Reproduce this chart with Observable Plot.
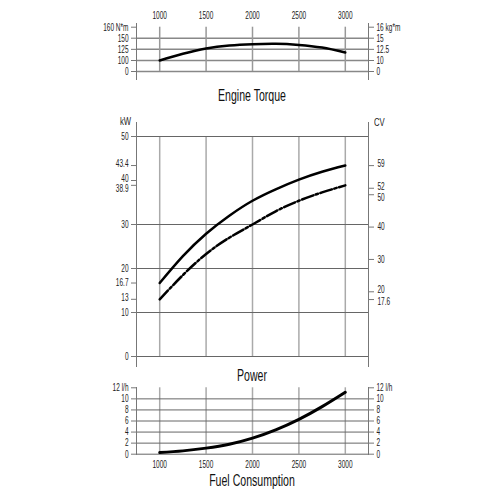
<!DOCTYPE html>
<html><head><meta charset="utf-8">
<script src="https://cdn.jsdelivr.net/npm/d3@7"></script>
<script src="https://cdn.jsdelivr.net/npm/@observablehq/plot@0.6"></script>
<style>
body{margin:0;background:#fff;}
#c{position:relative;width:500px;height:500px;overflow:hidden;font-family:"Liberation Sans",Arial,sans-serif;color:#222;}
.p{position:absolute;left:0;}
.t{position:absolute;left:2px;width:500px;text-align:center;font-size:16px;line-height:16px;color:#111;transform:scaleX(0.66);}
.u{position:absolute;font-size:11px;line-height:12px;color:#222;transform:scaleX(0.7);}
</style>
</head><body>
<div id="c"></div>
<script>
// ---- data ----
const rpm = [1000, 1250, 1500, 1750, 2000, 2250, 2500, 2750, 3000];
const torqueNm = [100, 115, 127, 133.5, 136.5, 137.5, 135, 129, 118];
const powerMax = [16.7, 22.8, 27.9, 32, 35.4, 38, 40.2, 42, 43.4];
const powerCont = [13, 18.5, 23.3, 27, 30, 33, 35.4, 37.3, 38.9];
const fuelLh = [0.3, 0.6, 1.1, 1.8, 2.9, 4.4, 6.3, 8.6, 11.2];

const rpmTicks = [1000, 1500, 2000, 2500, 3000];
const torqueTicks = [0, 100, 125, 150, 160];
const torqueLabelsL = ["0", "100", "125", "150", "160 N*m"];
const torqueLabelsR = ["0", "10", "12.5", "15", "16 kg*m"];
const torqueGrid = [0, 100, 125, 150];
const kwTicks = [0, 10, 13, 16.7, 20, 30, 38.9, 40, 43.4, 50];
const kwLabelsUp = [13, 40, 43.4];
const kwLabelsDown = [38.9];
const kwGrid = [0, 10, 20, 30, 50];
const cvTicks = [17.6, 20, 30, 40, 50, 52, 59];
const cvLabelsUp = [20, 52, 59];
const cvLabelsDown = [17.6, 50];
const kwPerCv = 1 / 1.36;
const fuelTicks = [0, 2, 4, 6, 8, 10, 12];
const fuelLabels = ["0", "2", "4", "6", "8", "10", "12 l/h"];
const fuelGrid = [0, 2, 4, 6, 8, 10];

const rows = rpm.map((r, i) => ({rpm: r, torque: torqueNm[i], pmax: powerMax[i], pcont: powerCont[i], fuel: fuelLh[i]}));

const FONT = '"Liberation Sans",Arial,sans-serif';
const common = {
  width: 500, marginLeft: 136, marginRight: 132,
  x: {domain: [750, 3250]},
  style: {fontSize: "10.5px", fontFamily: FONT, color: "#222", background: "transparent"}
};
const c = document.getElementById("c");
function condense(svg, s) {
  svg.querySelectorAll("text").forEach(t => {
    let x = parseFloat(t.getAttribute("x"));
    if (!isFinite(x)) x = 0;
    const tr = t.getAttribute("transform") || "";
    t.setAttribute("transform", `${tr} translate(${x},0) scale(${s},1) translate(${-x},0)`);
  });
}
function place(el, top) { condense(el, 0.62); el.classList.add("p"); el.style.top = top + "px"; c.appendChild(el); }
function label(cls, text, css) { const d = document.createElement("div"); d.className = cls; d.textContent = text; Object.assign(d.style, css); c.appendChild(d); }
const ax = {tickSize: 5, stroke: "#777", label: null};

// ---- Panel 1: torque ----
const tL = new Map(torqueTicks.map((t, i) => [t, torqueLabelsL[i]]));
const tR = new Map(torqueTicks.map((t, i) => [t, torqueLabelsR[i]]));
const p1 = Plot.plot({
  ...common, height: 85, marginTop: 23, marginBottom: 5,
  y: {type: "linear", domain: [0, 100, 150, 160], range: [71, 60, 37.7, 26.7]},
  marks: [
    Plot.ruleY(torqueGrid, {x1: 750, x2: 3250, stroke: "#888", strokeWidth: 1.5}),
    Plot.ruleX(rpmTicks, {y1: 0, y2: 160, stroke: "#999", strokeWidth: 1.5}),
    Plot.ruleX([750, 3250], {stroke: "#777"}),
    Plot.axisY(torqueTicks, {...ax, anchor: "left", tickPadding: 3, tickFormat: d => tL.get(d)}),
    Plot.axisY(torqueTicks, {...ax, anchor: "right", tickPadding: 3, tickFormat: d => tR.get(d)}),
    Plot.axisX(rpmTicks, {anchor: "top", tickSize: 0, tickPadding: 5, label: null, tickFormat: d => String(d)}),
    Plot.line(rows, {x: "rpm", y: "torque", curve: "natural", stroke: "#000", strokeWidth: 2.5})
  ]
});
place(p1, 0);

// ---- Panel 2: power ----
const kwPlain = kwTicks.filter(v => !kwLabelsUp.includes(v) && !kwLabelsDown.includes(v));
const cvPlain = cvTicks.filter(v => !cvLabelsUp.includes(v) && !cvLabelsDown.includes(v));
const toKw = v => v * kwPerCv;
const cvFmt = d => String(Math.round(d / kwPerCv * 10) / 10);
const lab = {label: null, tickSize: 0, fill: "#222"};
const p2 = Plot.plot({
  ...common, height: 270, marginTop: 12, marginBottom: 13,
  y: {domain: [0, 50], range: [246, 26]},
  x: {domain: [750, 3250], axis: null},
  marks: [
    Plot.ruleX(rpmTicks, {y1: 0, y2: 50, stroke: "#aaa", strokeWidth: 1.5}),
    Plot.ruleY(kwGrid, {x1: 750, x2: 3250, stroke: "#666", strokeWidth: 1}),
    Plot.ruleX([750, 3250], {stroke: "#777"}),
    Plot.axisY(kwTicks, {...ax, anchor: "left", fill: "none"}),
    Plot.axisY(kwPlain, {...lab, anchor: "left", tickPadding: 8, tickFormat: d => String(d)}),
    Plot.axisY(kwLabelsUp, {...lab, anchor: "left", tickPadding: 8, dy: -1.7, tickFormat: d => String(d)}),
    Plot.axisY(kwLabelsDown, {...lab, anchor: "left", tickPadding: 8, dy: 3.2, tickFormat: d => String(d)}),
    Plot.axisY(cvTicks.map(toKw), {...ax, anchor: "right", fill: "none"}),
    Plot.axisY(cvPlain.map(toKw), {...lab, anchor: "right", tickPadding: 9, tickFormat: cvFmt}),
    Plot.axisY(cvLabelsUp.map(toKw), {...lab, anchor: "right", tickPadding: 9, dy: -2, tickFormat: cvFmt}),
    Plot.axisY(cvLabelsDown.map(toKw), {...lab, anchor: "right", tickPadding: 9, dy: 2.5, tickFormat: cvFmt}),
    Plot.line(rows, {x: "rpm", y: "pmax", curve: "natural", stroke: "#000", strokeWidth: 2.5}),
    Plot.line(rows, {x: "rpm", y: "pcont", curve: "natural", stroke: "#000", strokeWidth: 2.5, strokeDasharray: "12,2.5,2.5,2.5"})
  ]
});
place(p2, 110);

// ---- Panel 3: fuel ----
const fMap = new Map(fuelTicks.map((t, i) => [t, fuelLabels[i]]));
const p3 = Plot.plot({
  ...common, height: 100, marginTop: 7, marginBottom: 25,
  y: {domain: [0, 12], range: [73.7, 7.3]},
  marks: [
    Plot.ruleX(rpmTicks, {y1: 0, y2: 12, stroke: "#aaa", strokeWidth: 1.5}),
    Plot.ruleY(fuelGrid, {x1: 750, x2: 3250, stroke: "#666", strokeWidth: 1}),
    Plot.ruleX([750, 3250], {stroke: "#777"}),
    Plot.axisY(fuelTicks, {...ax, anchor: "left", tickPadding: 3, tickFormat: d => fMap.get(d)}),
    Plot.axisY(fuelTicks, {...ax, anchor: "right", tickPadding: 3, tickFormat: d => fMap.get(d)}),
    Plot.axisX(rpmTicks, {anchor: "bottom", tickSize: 0, tickPadding: 5, label: null, tickFormat: d => String(d)}),
    Plot.line(rows, {x: "rpm", y: "fuel", curve: "natural", stroke: "#000", strokeWidth: 3})
  ]
});
place(p3, 380);

// ---- titles ----
label("t", "Engine Torque", {top: "88px"});
label("t", "Power", {top: "368px"});
label("t", "Fuel Consumption", {top: "473px"});
label("u", "kW", {top: "115px", left: "111px", width: "20px", textAlign: "right", transformOrigin: "right center"});
label("u", "CV", {top: "116px", left: "374px", transformOrigin: "left center"});
</script>
</body></html>
